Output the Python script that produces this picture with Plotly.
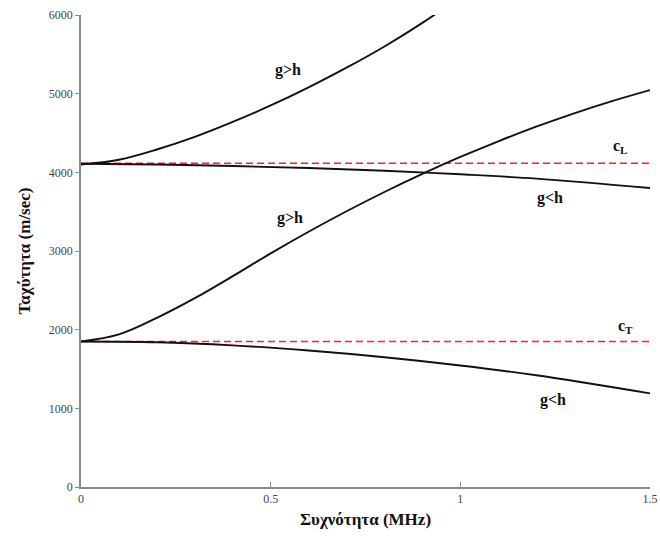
import plotly.graph_objects as go

# Dispersion curves: phase velocity (m/sec) vs frequency (MHz)
x_upper_gh = [0, 0.1, 0.2, 0.3, 0.4, 0.5, 0.6, 0.7, 0.8, 0.9, 1.0]
v_upper_gh = [4100, 4160, 4290, 4450, 4640, 4850, 5080, 5330, 5600, 5900, 6230]

x_lower_gh = [0, 0.1, 0.2, 0.3, 0.4, 0.5, 0.6, 0.7, 0.8, 0.9, 1.0, 1.1, 1.2, 1.3, 1.4, 1.5]
v_lower_gh = [1850, 1940, 2150, 2400, 2680, 2970, 3245, 3505, 3750, 3980, 4195, 4395, 4580, 4750, 4905, 5045]

x_upper_lh = [0, 0.2, 0.4, 0.6, 0.8, 1.0, 1.2, 1.5]
v_upper_lh = [4110, 4100, 4080, 4055, 4020, 3975, 3920, 3800]

x_lower_lh = [0, 0.2, 0.4, 0.6, 0.8, 1.0, 1.2, 1.5]
v_lower_lh = [1850, 1840, 1800, 1735, 1650, 1545, 1420, 1190]

c_L = 4115
c_T = 1850
x_range = [0, 1.5]

x_ticks = [0, 0.5, 1, 1.5]
x_ticktext = ["0", "0.5", "1", "1.5"]
y_ticks = [0, 1000, 2000, 3000, 4000, 5000, 6000]

labels = [
    (0.546, 5300, "<b>g>h</b>"),
    (0.551, 3420, "<b>g>h</b>"),
    (1.237, 3670, "<b>g<h</b>"),
    (1.245, 1100, "<b>g<h</b>"),
    (1.422, 4330, "<b>c<sub>L</sub></b>"),
    (1.435, 2040, "<b>c<sub>T</sub></b>"),
]

serif = "Liberation Serif, Times New Roman, serif"

fig = go.Figure()

for xs, ys in [(x_range, [c_L, c_L]), (x_range, [c_T, c_T])]:
    fig.add_trace(go.Scatter(
        x=xs, y=ys, mode="lines",
        line=dict(color="#ff2020", width=1.6, dash="7px,4px"),
        hoverinfo="skip", showlegend=False,
    ))

for xs, ys in [(x_upper_gh, v_upper_gh), (x_lower_gh, v_lower_gh),
               (x_upper_lh, v_upper_lh), (x_lower_lh, v_lower_lh)]:
    fig.add_trace(go.Scatter(
        x=xs, y=ys, mode="lines",
        line=dict(color="#111111", width=1.9, shape="spline", smoothing=1.0),
        showlegend=False,
    ))

for lx, ly, txt in labels:
    fig.add_annotation(
        x=lx, y=ly, xref="x", yref="y", text=txt, showarrow=False,
        font=dict(family=serif, size=16, color="#111111"),
    )

fig.update_layout(
    width=660, height=543,
    margin=dict(l=81, r=10, t=15, b=56),
    paper_bgcolor="white", plot_bgcolor="white",
    font=dict(family=serif),
)

fig.update_xaxes(
    range=x_range, tickvals=x_ticks, ticktext=x_ticktext,
    automargin=False,
    showgrid=False, zeroline=False,
    showline=True, linecolor="#8a8a8a", linewidth=1.5,
    ticks="inside", ticklen=5, tickcolor="#8a8a8a",
    tickfont=dict(family=serif, size=12, color="#444444"),
    title=dict(text="<b>Συχνότητα (MHz)</b>", standoff=8,
               font=dict(family=serif, size=17, color="#111111")),
)

fig.update_yaxes(
    range=[0, 6000], tickvals=y_ticks,
    automargin=False,
    showgrid=False, zeroline=False,
    showline=True, linecolor="#8a8a8a", linewidth=1.5,
    ticks="outside", ticklen=4, tickcolor="#8a8a8a",
    tickfont=dict(family=serif, size=12, color="#444444"),
    title=dict(text="<b>Ταχύτητα (m/sec)</b>", standoff=14,
               font=dict(family=serif, size=17, color="#111111")),
)

fig.write_html("out.html")
